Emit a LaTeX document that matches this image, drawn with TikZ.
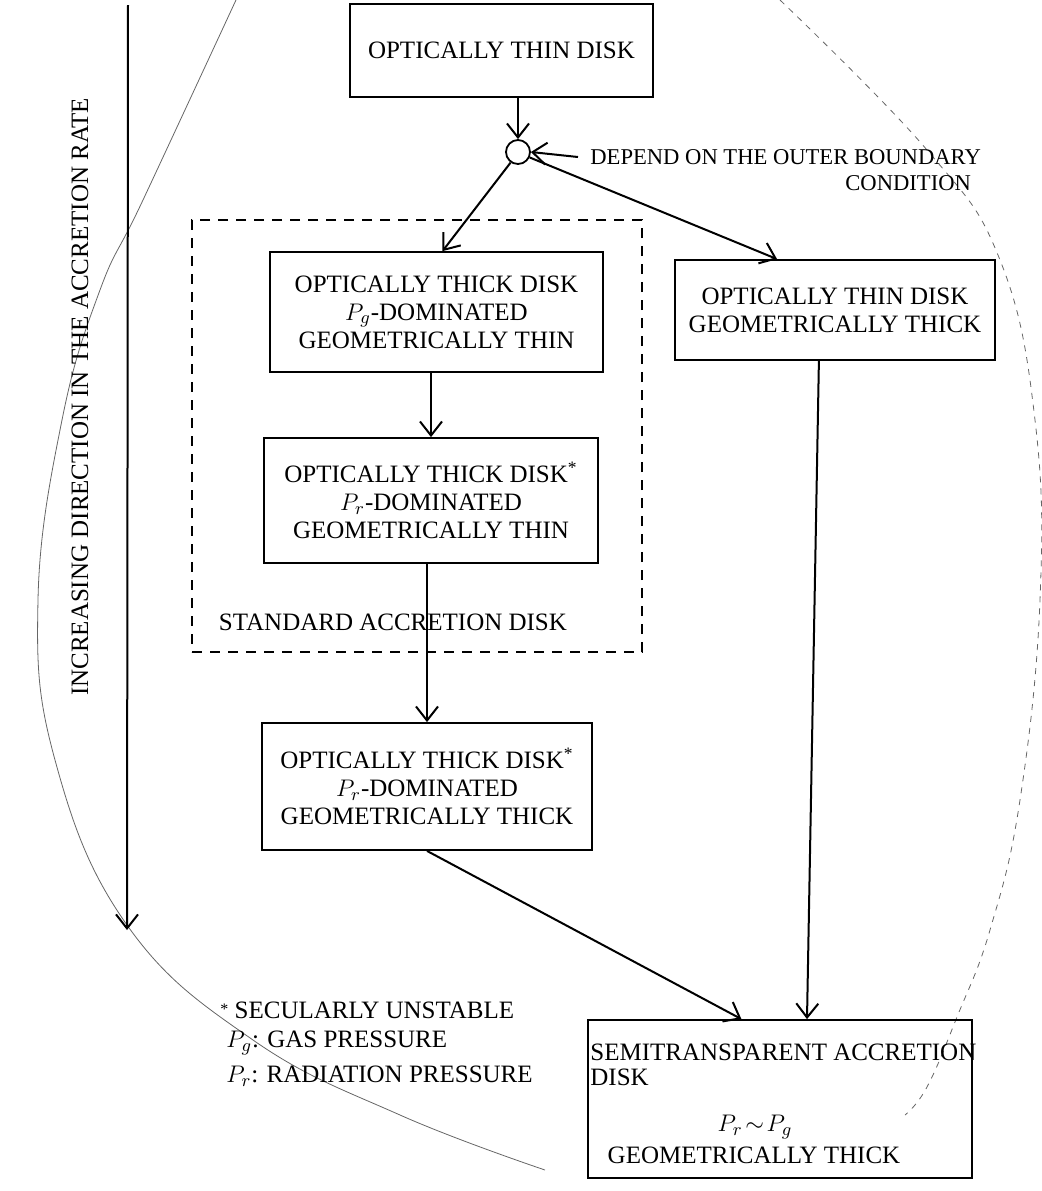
\documentclass[tikz,border=0pt]{standalone}
\usepackage{fontspec}
\setmainfont{Liberation Serif}
\usetikzlibrary{arrows.meta,calc}
\begin{document}
\begin{tikzpicture}[x=0.5pt,y=-0.5pt,
  box/.style={draw, line width=0.9pt, align=center, inner sep=0pt, font=\fontsize{12.5}{14}\selectfont},
  txt/.style={inner sep=0pt, font=\fontsize{12.5}{14}\selectfont},
  smalltxt/.style={inner sep=0pt, font=\fontsize{11.3}{13}\selectfont},
  conn/.style={line width=1pt, -{Straight Barb[length=7pt,width=11pt,line width=1pt]}},
  sketch/.style={line width=0.4pt, black!60}]
\useasboundingbox (0,0) rectangle (1042,1191);

% faint hand-drawn curves of the scan
\draw[sketch] plot[smooth, tension=0.7] coordinates {(236,0) (143,200) (100,290) (62,420) (38,600) (55,760) (127,925) (253,1040) (400,1115) (545,1170)};
\draw[sketch, dashed] plot[smooth, tension=0.7] coordinates {(780,0) (927,150) (1000,260) (1035,420) (1040,600) (1020,800) (990,930) (957,1017) (927,1087) (905,1115)};

% nodes
\node[box, minimum width=151.5pt, minimum height=46.5pt] (top) at (501.5,50.5) {OPTICALLY THIN DISK};
\node[draw, circle, line width=0.9pt, minimum size=12pt, inner sep=0pt] (circ) at (518,152) {};
\node[smalltxt, anchor=west] (dep) at (590,157) {DEPEND ON THE OUTER BOUNDARY};
\node[smalltxt, anchor=west] (cond) at (845,183) {CONDITION};

\node[draw, line width=0.9pt, minimum width=225pt, minimum height=216pt, inner sep=0pt, dash pattern=on 5pt off 4pt] (std) at (417,436) {};
\node[box, minimum width=166.5pt, minimum height=60pt] (b1) at (436.5,312) {OPTICALLY THICK DISK\\ $P_g$-DOMINATED\\ GEOMETRICALLY THIN};
\node[box, minimum width=167pt, minimum height=62.5pt] (b2) at (431,500.5) {OPTICALLY THICK DISK\textsuperscript{*}\\ $P_r$-DOMINATED\\ GEOMETRICALLY THIN};
\node[txt] (stdlab) at (393,622) {STANDARD ACCRETION DISK};
\node[box, minimum width=165pt, minimum height=63.5pt] (b3) at (427,786.5) {OPTICALLY THICK DISK\textsuperscript{*}\\ $P_r$-DOMINATED\\ GEOMETRICALLY THICK};
\node[box, minimum width=160pt, minimum height=50pt] (rb) at (835,310) {OPTICALLY THIN DISK\\ GEOMETRICALLY THICK};

\node[draw, line width=0.9pt, minimum width=192pt, minimum height=79pt, inner sep=0pt] (bot) at (780,1099) {};
\node[txt, anchor=west] (s1) at (590,1052) {SEMITRANSPARENT ACCRETION};
\node[txt, anchor=west] (s2) at (590,1077) {DISK};
\node[txt] (s3) at (755,1127) {$P_r\!\sim\! P_g$};
\node[txt] (s4) at (754,1155) {GEOMETRICALLY THICK};

% accretion-rate axis
\coordinate (axtop) at (128,5);
\coordinate (axbot) at (127,930);
\node[txt, rotate=90] (rate) at (80,397) {INCREASING DIRECTION IN THE ACCRETION RATE};

% legend
\node[txt, anchor=west] (l1) at (220,1010) {\raisebox{0.35ex}{\footnotesize *} SECULARLY UNSTABLE};
\node[txt, anchor=west] (l2) at (226,1043) {$P_g$: GAS PRESSURE};
\node[txt, anchor=west] (l3) at (226,1076) {$P_r$: RADIATION PRESSURE};

% connectors
\draw[conn] (circ |- top.south) -- (circ.north);
\draw[conn] ([xshift=-6pt]dep.west) -- (circ.east);
\draw[conn] (circ.235) -- ([xshift=3pt]b1.north);
\draw[conn] (circ.-25) -- ($(rb.north west)!0.32!(rb.north east)$);
\draw[conn] (b2.north |- b1.south) -- (b2.north);
\draw[conn] (b3.north |- b2.south) -- (b3.north);
\draw[conn] (b3.south) -- ($(bot.north west)!0.40!(bot.north east)$);
\draw[conn] ($(rb.south west)!0.45!(rb.south east)$) -- ($(bot.north west)!0.57!(bot.north east)$);
\draw[conn] (axtop) -- (axbot);
\end{tikzpicture}
\end{document}
